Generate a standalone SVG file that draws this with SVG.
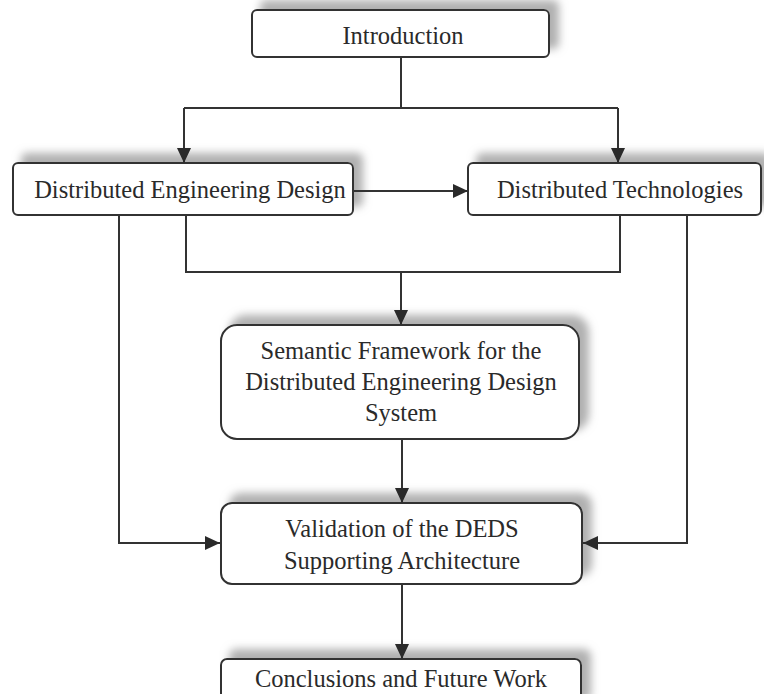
<svg xmlns="http://www.w3.org/2000/svg" width="764" height="694" viewBox="0 0 764 694">
  <defs>
    <filter id="soft-shadow" x="-10%" y="-40%" width="125%" height="160%">
      <feGaussianBlur in="SourceAlpha" stdDeviation="4" result="blur"/>
      <feOffset in="blur" dx="9" dy="-9" result="off"/>
      <feFlood flood-color="#b0b0b0" result="tint"/>
      <feComposite in="tint" in2="off" operator="in" result="shadow"/>
      <feMerge>
        <feMergeNode in="shadow"/>
        <feMergeNode in="SourceGraphic"/>
      </feMerge>
    </filter>
    <marker id="arrow" viewBox="0 0 15 14" refX="15" refY="7" markerWidth="15" markerHeight="14" markerUnits="userSpaceOnUse" orient="auto">
      <path d="M0,0 L15,7 L0,14 Z" fill="#2a2a2a"/>
    </marker>
  </defs>
  <style>
    .box { fill: #ffffff; stroke: #333333; stroke-width: 2; filter: url(#soft-shadow); }
    .label { font-family: "Liberation Serif", "Times New Roman", serif; font-size: 24.5px; fill: #2a2a2a; text-anchor: middle; }
    .wire { fill: none; stroke: #333333; stroke-width: 2; }
    .arrowed { marker-end: url(#arrow); }
  </style>
  <rect width="764" height="694" fill="#ffffff"/>

  <!-- nodes -->
  <g id="introduction">
    <rect class="box" x="252" y="10" width="297" height="47" rx="5"/>
    <text class="label" x="403" y="44">Introduction</text>
  </g>
  <g id="distributed-engineering-design">
    <rect class="box" x="13" y="163" width="340" height="52" rx="5"/>
    <text class="label" x="190" y="198">Distributed Engineering Design</text>
  </g>
  <g id="distributed-technologies">
    <rect class="box" x="468" y="163" width="293" height="52" rx="5"/>
    <text class="label" x="620" y="198">Distributed Technologies</text>
  </g>
  <g id="semantic-framework">
    <rect class="box" x="221" y="325" width="358" height="114" rx="16"/>
    <text class="label" x="401" y="359">Semantic Framework for the</text>
    <text class="label" x="401" y="390">Distributed Engineering Design</text>
    <text class="label" x="401" y="421">System</text>
  </g>
  <g id="validation">
    <rect class="box" x="221" y="503" width="361" height="81" rx="11"/>
    <text class="label" x="402" y="537">Validation of the DEDS</text>
    <text class="label" x="402" y="569">Supporting Architecture</text>
  </g>
  <g id="conclusions">
    <rect class="box" x="221" y="659" width="360" height="50" rx="6"/>
    <text class="label" x="401" y="687">Conclusions and Future Work</text>
  </g>

  <!-- connectors, drawn over the box shadows -->
  <g id="connectors">
    <path class="wire" d="M401,57 V108"/>
    <path class="wire" d="M184,108 H618"/>
    <path class="wire arrowed" d="M184,108 V163"/>
    <path class="wire arrowed" d="M618,108 V163"/>
    <path class="wire arrowed" d="M353,191 H468"/>
    <path class="wire" d="M186,215 V272 H620 V215"/>
    <path class="wire arrowed" d="M401,272 V325"/>
    <path class="wire arrowed" d="M119,215 V543 H220"/>
    <path class="wire arrowed" d="M687,215 V543 H583"/>
    <path class="wire arrowed" d="M402,439 V503"/>
    <path class="wire arrowed" d="M402,584 V659"/>
  </g>
</svg>
